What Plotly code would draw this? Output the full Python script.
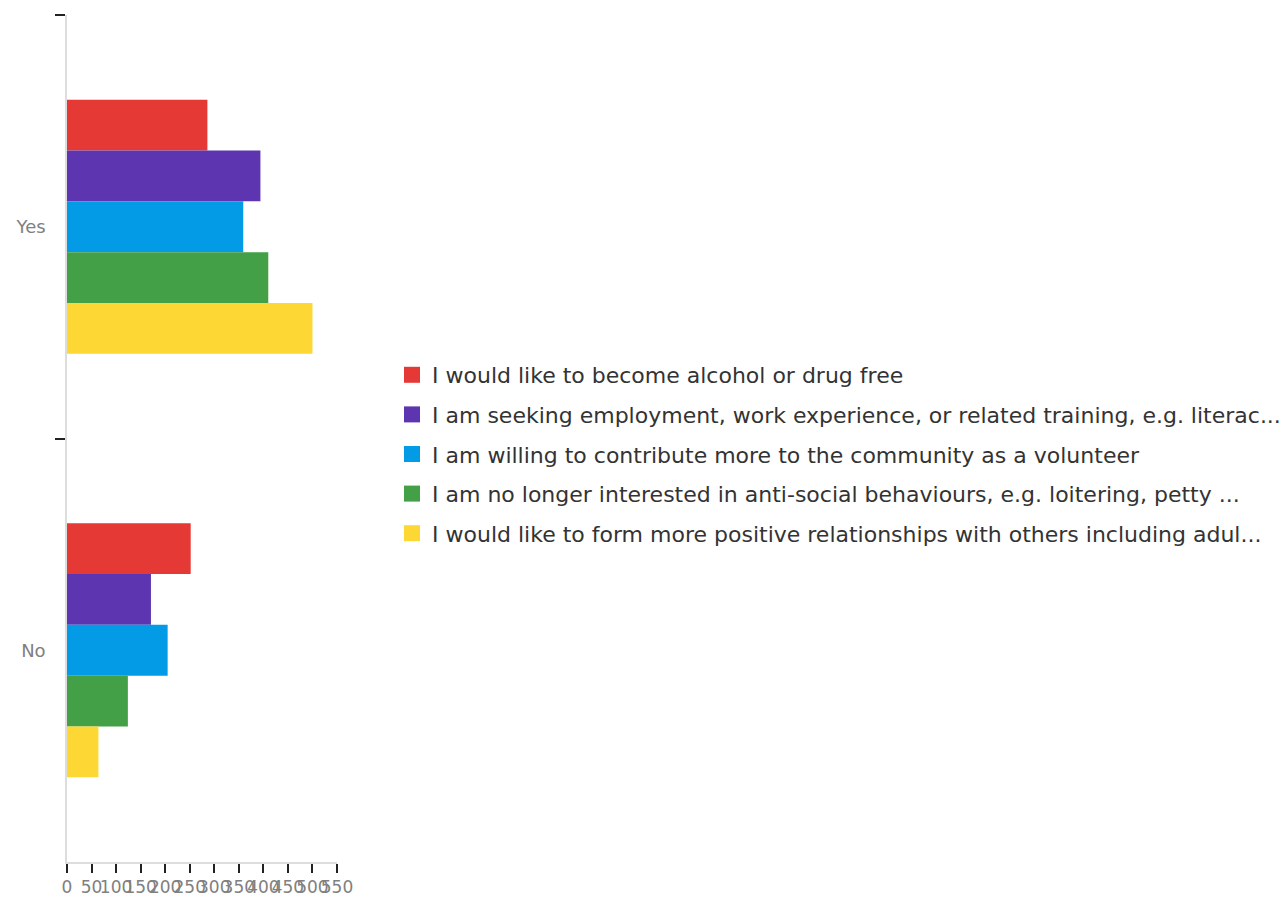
import plotly.graph_objects as go

categories = ["Yes", "No"]
series_names = [
    "I would like to become alcohol or drug free",
    "I am seeking employment, work experience, or related training, e.g. literac...",
    "I am willing to contribute more to the community as a volunteer",
    "I am no longer interested in anti-social behaviours, e.g. loitering, petty ...",
    "I would like to form more positive relationships with others including adul...",
]
values_yes = [286, 394, 359, 410, 500]
values_no = [252, 171, 205, 124, 64]
colors = ["#E53935", "#5E35B1", "#039BE5", "#43A047", "#FDD835"]

PLOT_L, PLOT_R = 67, 337

fig = go.Figure()
for i, name in enumerate(series_names):
    fig.add_trace(go.Bar(
        y=categories,
        x=[values_yes[i], values_no[i]],
        name=name,
        orientation="h",
        marker=dict(color=colors[i], line=dict(width=0)),
        legendgroup=f"g{i}",
        showlegend=False,
    ))
# legend entries (square swatches)
for i, name in enumerate(series_names):
    fig.add_trace(go.Scatter(
        x=[None], y=[None], mode="markers", name=name,
        marker=dict(symbol="square", size=16, color=colors[i]),
        legendgroup=f"g{i}", showlegend=True,
    ))

fig.update_layout(
    width=1280, height=899,
    margin=dict(l=PLOT_L, r=1280 - PLOT_R, t=15, b=37, autoexpand=False),
    paper_bgcolor="white", plot_bgcolor="white",
    barmode="group", bargap=0.4, bargroupgap=0,
    font=dict(family="DejaVu Sans, sans-serif", color="#333"),
    legend=dict(
        x=(392 - PLOT_L) / (PLOT_R - PLOT_L), y=1 - (454 - 15) / 847,
        xanchor="left", yanchor="middle",
        font=dict(size=22, color="#333"),
        traceorder="grouped", itemclick=False,
        tracegroupgap=8,
    ),
    xaxis=dict(
        range=[0, 550], tickmode="linear", tick0=0, dtick=50,
        tickangle=0, showgrid=False, zeroline=False,
        showline=True, linecolor="#dddddd", linewidth=1.5,
        ticks="outside", ticklen=9, tickcolor="#222", tickwidth=1.5,
        tickfont=dict(size=17, color="#808080"),
    ),
    yaxis=dict(
        type="category", range=[1.5, -0.5], showgrid=False, zeroline=False,
        showline=True, linecolor="#dddddd", linewidth=1.5,
        ticks="outside", ticklen=10, tickcolor="#222", tickwidth=1.5,
        tickson="boundaries", ticklabelstandoff=16,
        tickfont=dict(size=18, color="#808080"),
    ),
)

fig.write_html("out.html")
